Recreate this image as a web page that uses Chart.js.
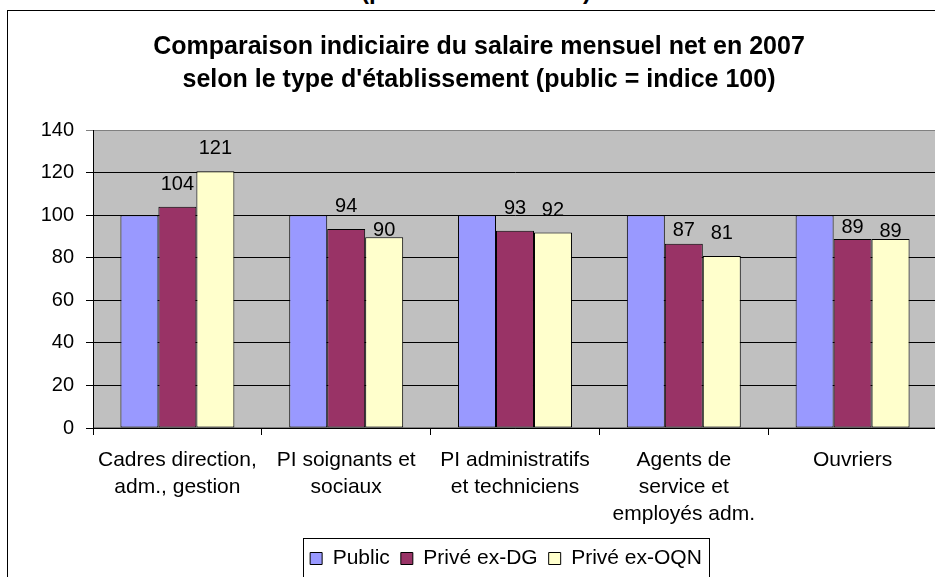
<!DOCTYPE html>
<html>
<head>
<meta charset="utf-8">
<script src="https://cdn.jsdelivr.net/npm/chart.js@4.4.0/dist/chart.umd.min.js"></script>
<style>
  html, body { margin: 0; padding: 0; background: #fff; overflow: hidden; width: 935px; height: 577px; }
  #above { position: absolute; left: 0; width: 952px; top: -21px; text-align: center;
           font: bold 24px "Liberation Sans", Arial, sans-serif; line-height: 24px; color: #000; }
  #frame { position: absolute; left: 7px; top: 10px; width: 929px; height: 570px; border: 1px solid #000; background: #fff; }
  canvas { display: block; }
</style>
</head>
<body>
<div id="above">(public = indice 100)</div>
<div id="frame"><canvas id="chart" width="929" height="570"></canvas></div>
<script>
const categories = [
    ['Cadres direction,', 'adm., gestion'],
    ['PI soignants et', 'sociaux'],
    ['PI administratifs', 'et techniciens'],
    ['Agents de', 'service et', 'employés adm.'],
    'Ouvriers'
];
const seriesNames = ['Public', 'Privé ex-DG', 'Privé ex-OQN'];
const publicValues = [100, 100, 100, 100, 100];
const priveDgValues = [103.9, 93.5, 92.7, 86.6, 88.8];
const priveOqnValues = [120.6, 89.6, 91.9, 80.8, 88.8];
const yMin = 0, yMax = 140, yStep = 20;

const FONT = '"Liberation Sans", Arial, sans-serif';
Chart.defaults.font.family = FONT;
Chart.defaults.color = '#000';

// grey plot area with its border, like the spreadsheet
const plotBackground = {
    id: 'plotBackground',
    beforeDraw(chart) {
        const { ctx, chartArea: a } = chart;
        ctx.save();
        ctx.fillStyle = '#C0C0C0';
        ctx.fillRect(a.left, a.top, a.right - a.left, a.bottom - a.top);
        ctx.strokeStyle = '#808080';
        ctx.lineWidth = 1;
        ctx.strokeRect(a.left + 0.5, a.top + 0.5, a.right - a.left - 1, a.bottom - a.top - 1);
        ctx.restore();
    }
};

// value labels above the private-sector bars
const valueLabels = {
    id: 'valueLabels',
    afterDatasetsDraw(chart, args, opts) {
        const ctx = chart.ctx;
        ctx.save();
        ctx.font = '20px ' + FONT;
        ctx.fillStyle = '#000';
        ctx.textAlign = 'center';
        ctx.textBaseline = 'alphabetic';
        chart.data.datasets.forEach((ds, i) => {
            if (!ds.showValues) return;
            chart.getDatasetMeta(i).data.forEach((bar, j) => {
                const gaps = opts.gaps[i] || [];
                const gap = gaps[j] !== undefined ? gaps[j] : 17;
                ctx.fillText(Math.round(ds.data[j]), bar.x, bar.y - gap);
            });
        });
        ctx.restore();
    }
};

// legend sits a bit right of centre, inside a box
const legendBox = {
    id: 'legendBox',
    afterLayout(chart, args, opts) {
        chart.legend.left += opts.shift;
        chart.legend.right += opts.shift;
    },
    afterDraw(chart) {
        const lg = chart.legend;
        const pad = lg.options.labels.padding;
        const lineW = lg.lineWidths[0];
        const start = (lg.left + pad + lg.right - lineW) / 2;
        const x0 = Math.round(start - 7) + 0.5;
        const x1 = Math.round(start + lineW - pad + 7) + 0.5;
        const ctx = chart.ctx;
        ctx.save();
        ctx.strokeStyle = '#000';
        ctx.lineWidth = 1;
        ctx.strokeRect(x0, lg.top + 1.5, x1 - x0, lg.height + 20);
        ctx.restore();
    }
};

new Chart(document.getElementById('chart'), {
    type: 'bar',
    data: {
        labels: categories,
        datasets: [
            { label: seriesNames[0], data: publicValues, backgroundColor: '#9999FF' },
            { label: seriesNames[1], data: priveDgValues, backgroundColor: '#993366', showValues: true },
            { label: seriesNames[2], data: priveOqnValues, backgroundColor: '#FFFFCC', showValues: true }
        ].map(d => Object.assign(d, {
            borderColor: '#000',
            borderWidth: 1,
            borderSkipped: false,
            categoryPercentage: 0.675,
            barPercentage: 1
        }))
    },
    options: {
        responsive: false,
        animation: false,
        layout: { padding: { left: 13, right: 0, top: 0, bottom: 2 } },
        plugins: {
            title: {
                display: true,
                text: ['Comparaison indiciaire du salaire mensuel net en 2007',
                       "selon le type d'établissement (public = indice 100)"],
                font: { size: 25, weight: 'bold', lineHeight: 1.32 },
                color: '#000',
                padding: { top: 20, bottom: 33 }
            },
            legend: {
                position: 'bottom',
                labels: {
                    boxWidth: 12,
                    boxHeight: 12,
                    padding: 11,
                    font: { size: 21 },
                    color: '#000'
                }
            },
            tooltip: { enabled: false },
            valueLabels: { gaps: { 1: [17, 17, 17, 8, 6], 2: [17, 1, 16, 17, 2] } },
            legendBox: { shift: 27 }
        },
        scales: {
            x: {
                afterFit: s => { s.height = 109; },
                grid: {
                    offset: true,
                    drawOnChartArea: false,
                    color: '#000',
                    tickLength: 7
                },
                border: { color: '#000', width: 1 },
                ticks: {
                    autoSkip: false,
                    maxRotation: 0,
                    padding: 12,
                    font: { size: 21, lineHeight: 1.286 },
                    color: '#000'
                }
            },
            y: {
                min: yMin,
                max: yMax,
                afterFit: s => { s.width = 72; },
                grid: {
                    color: c => (c.tick && c.tick.value === yMax ? '#808080' : '#000'),
                    tickLength: 7
                },
                border: { color: '#000', width: 1 },
                ticks: {
                    stepSize: yStep,
                    padding: 12,
                    font: { size: 20 },
                    color: '#000'
                }
            }
        }
    },
    plugins: [plotBackground, valueLabels, legendBox]
});
</script>
</body>
</html>
